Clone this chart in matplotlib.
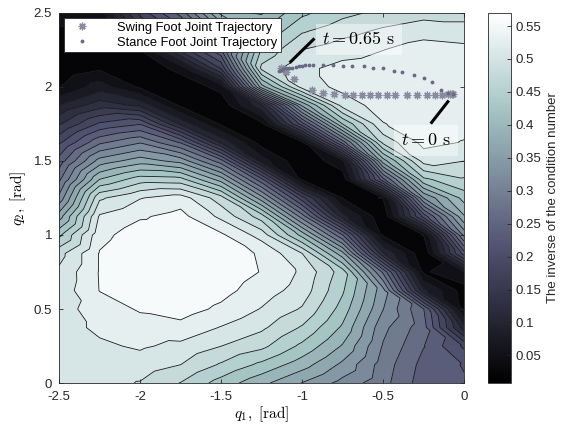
import matplotlib
matplotlib.use('Agg')
import matplotlib.pyplot as plt
import matplotlib.tri as mtri
import numpy as np
from matplotlib.cm import ScalarMappable
from matplotlib.colors import Normalize

plt.rcParams['font.family'] = ['Liberation Sans', 'DejaVu Sans']
plt.rcParams['mathtext.fontset'] = 'cm'
plt.rcParams['axes.unicode_minus'] = False

# grid of the map
q1_grid = [-2.5, -2.25, -2.0, -1.75, -1.5, -1.25, -1.0, -0.75, -0.5, -0.25, 0.0]
q2_grid = [0.0, 0.125, 0.25, 0.375, 0.5, 0.625, 0.75, 0.875, 1.0, 1.125, 1.25,
           1.375, 1.5, 1.625, 1.75, 1.875, 2.0, 2.125, 2.25, 2.375, 2.5]
# inverse condition number, one list per q1 value (bottom to top in q2)
inv_cond_cols = [
    [0.500, 0.500, 0.505, 0.505, 0.505, 0.500, 0.495, 0.480, 0.430, 0.370, 0.310,
     0.270, 0.234, 0.190, 0.138, 0.090, 0.033, 0.012, 0.015, 0.030, 0.050],
    [0.500, 0.506, 0.512, 0.522, 0.530, 0.544, 0.545, 0.545, 0.535, 0.520, 0.485,
     0.410, 0.340, 0.270, 0.200, 0.130, 0.075, 0.030, 0.012, 0.020, 0.050],
    [0.488, 0.505, 0.520, 0.532, 0.546, 0.558, 0.565, 0.565, 0.558, 0.540, 0.515,
     0.450, 0.370, 0.300, 0.220, 0.110, 0.030, 0.012, 0.035, 0.120, 0.180],
    [0.462, 0.490, 0.510, 0.535, 0.555, 0.565, 0.570, 0.568, 0.560, 0.552, 0.530,
     0.446, 0.346, 0.246, 0.110, 0.030, 0.013, 0.045, 0.150, 0.200, 0.260],
    [0.425, 0.460, 0.490, 0.515, 0.538, 0.552, 0.560, 0.558, 0.548, 0.510, 0.475,
     0.370, 0.260, 0.110, 0.030, 0.014, 0.045, 0.170, 0.246, 0.320, 0.390],
    [0.390, 0.430, 0.470, 0.495, 0.515, 0.530, 0.542, 0.540, 0.505, 0.450, 0.340,
     0.230, 0.075, 0.021, 0.027, 0.110, 0.370, 0.470, 0.440, 0.410, 0.380],
    [0.355, 0.395, 0.430, 0.460, 0.487, 0.505, 0.512, 0.490, 0.400, 0.290, 0.180,
     0.030, 0.010, 0.030, 0.210, 0.360, 0.500, 0.510, 0.490, 0.460, 0.430],
    [0.320, 0.350, 0.380, 0.405, 0.425, 0.440, 0.450, 0.365, 0.250, 0.100, 0.033,
     0.017, 0.055, 0.260, 0.410, 0.500, 0.525, 0.525, 0.505, 0.480, 0.455],
    [0.285, 0.290, 0.300, 0.310, 0.330, 0.340, 0.270, 0.120, 0.030, 0.012, 0.035,
     0.240, 0.370, 0.470, 0.515, 0.530, 0.535, 0.530, 0.516, 0.495, 0.470],
    [0.235, 0.240, 0.250, 0.260, 0.250, 0.095, 0.030, 0.010, 0.035, 0.205, 0.330,
     0.430, 0.500, 0.525, 0.532, 0.538, 0.540, 0.538, 0.530, 0.505, 0.480],
    [0.225, 0.220, 0.190, 0.100, 0.027, 0.021, 0.060, 0.210, 0.310, 0.380, 0.420,
     0.460, 0.490, 0.515, 0.525, 0.532, 0.535, 0.532, 0.525, 0.500, 0.480],
]

# swing foot (asterisks)
swing_q1 = [-0.07, -0.074, -0.086, -0.10, -0.136, -0.18, -0.23, -0.29, -0.35,
            -0.426, -0.475, -0.53, -0.58, -0.63, -0.685, -0.735, -0.80, -0.87,
            -0.94, -1.05, -1.10, -1.12, -1.13]
swing_q2 = [1.95, 1.95, 1.95, 1.95, 1.945, 1.945, 1.945, 1.945, 1.945,
            1.945, 1.945, 1.945, 1.945, 1.945, 1.945, 1.945, 1.95, 1.96,
            1.98, 2.05, 2.10, 2.12, 2.13]
# stance foot (dots)
stance_q1 = [-0.07, -0.10, -0.14, -0.20, -0.25, -0.31, -0.38, -0.43, -0.50,
             -0.56, -0.62, -0.69, -0.75, -0.81, -0.87, -0.93, -0.96, -0.98,
             -1.00, -1.02, -1.04, -1.06, -1.08, -1.10, -1.12, -1.13, -1.14]
stance_q2 = [1.95, 1.96, 1.98, 2.03, 2.06, 2.08, 2.10, 2.11, 2.13,
             2.13, 2.14, 2.14, 2.14, 2.15, 2.15, 2.15, 2.145, 2.145,
             2.14, 2.14, 2.135, 2.13, 2.13, 2.125, 2.12, 2.115, 2.11]

z_min, z_max = 0.008, 0.57
cbar_ticks = [0.05, 0.1, 0.15, 0.2, 0.25, 0.3, 0.35, 0.4, 0.45, 0.5, 0.55]

fig = plt.figure(figsize=(5.68, 4.28), dpi=100)
ax = fig.add_axes([0.104, 0.105, 0.713, 0.865])
cax = fig.add_axes([0.859, 0.105, 0.040, 0.865])

Q1, Q2 = np.meshgrid(q1_grid, q2_grid)
Z = np.array(inv_cond_cols).T
nr, nc = Z.shape
# split every cell along the top-left / bottom-right diagonal (the valley direction)
triangles = []
for r in range(nr - 1):
    for c in range(nc - 1):
        bl = r * nc + c
        br, tl = bl + 1, bl + nc
        tr = tl + 1
        triangles.append([bl, br, tl])
        triangles.append([br, tr, tl])
tri = mtri.Triangulation(Q1.ravel(), Q2.ravel(), triangles)

levels = np.linspace(z_min, z_max, 22)
ax.tricontourf(tri, Z.ravel(), levels=levels, cmap='bone', vmin=z_min, vmax=z_max)
ax.tricontour(tri, Z.ravel(), levels=levels[1:-1], colors='#1a1a1a', linewidths=0.6)

ax.plot(swing_q1, swing_q2, linestyle='none', marker=(8, 2, 0), markersize=5.5,
        color='#8a8aa0', markeredgewidth=0.9, label='Swing Foot Joint Trajectory')
ax.plot(stance_q1, stance_q2, linestyle='none', marker='.', markersize=3.5,
        color='#6a6a86', label='Stance Foot Joint Trajectory')

# time markers
ax.plot([-1.07, -0.93], [2.17, 2.32], color='black', lw=2.2)
ax.text(-0.65, 2.32, r'$t = 0.65\ \mathrm{s}$', fontsize=13, ha='center', va='center',
        bbox=dict(facecolor='white', alpha=0.45, edgecolor='none', pad=5))
ax.plot([-0.20, -0.10], [1.76, 1.90], color='black', lw=2.2)
ax.text(-0.235, 1.64, r'$t = 0\ \mathrm{s}$', fontsize=13, ha='center', va='center',
        bbox=dict(facecolor='white', alpha=0.45, edgecolor='none', pad=5))

ax.set_xlim(-2.5, 0)
ax.set_ylim(0, 2.5)
ax.set_xticks([-2.5, -2, -1.5, -1, -0.5, 0])
ax.set_xticklabels(['-2.5', '-2', '-1.5', '-1', '-0.5', '0'])
ax.set_yticks([0, 0.5, 1, 1.5, 2, 2.5])
ax.set_yticklabels(['0', '0.5', '1', '1.5', '2', '2.5'])
ax.tick_params(direction='in', top=True, right=True, length=3, width=0.6,
               labelsize=9.5, colors='#262626')
ax.tick_params(axis='x', pad=6)
ax.tick_params(axis='y', pad=5)
for s in ax.spines.values():
    s.set_color('#262626')
    s.set_linewidth(0.6)
ax.set_xlabel(r'$q_1,\ [\mathrm{rad}]$', fontsize=11, labelpad=1)
ax.set_ylabel(r'$q_2,\ [\mathrm{rad}]$', fontsize=11, labelpad=4)

leg = ax.legend(loc='upper left', fontsize=9.3, frameon=True, fancybox=False,
                borderaxespad=0.4, handletextpad=1.6, borderpad=0.3,
                labelspacing=0.2, handlelength=2.2)
leg.get_frame().set_edgecolor('#262626')
leg.get_frame().set_linewidth(0.6)
leg.get_frame().set_alpha(1)

sm = ScalarMappable(norm=Normalize(z_min, z_max), cmap='bone')
cb = fig.colorbar(sm, cax=cax, ticks=cbar_ticks)
cb.ax.set_yticklabels(['0.05', '0.1', '0.15', '0.2', '0.25', '0.3', '0.35',
                       '0.4', '0.45', '0.5', '0.55'])
cb.ax.tick_params(direction='in', length=3, width=0.6, labelsize=9.5, colors='#262626')
cb.outline.set_edgecolor('#262626')
cb.outline.set_linewidth(0.6)
cb.set_label('The inverse of the condition number', fontsize=9.5, color='#262626')

fig.savefig('out.png', dpi=100)
